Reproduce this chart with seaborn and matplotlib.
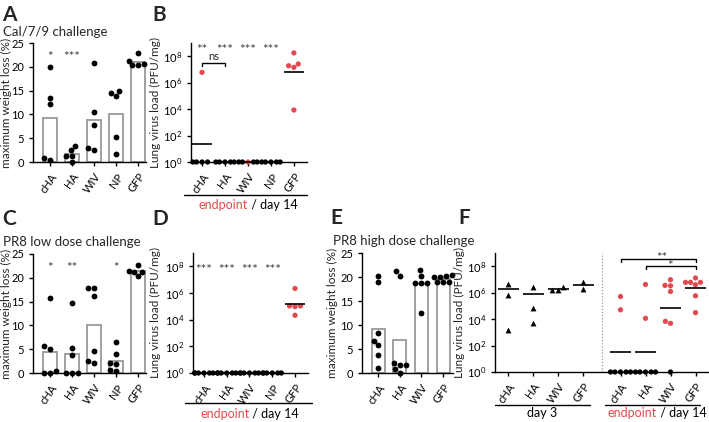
import numpy as np
import pandas as pd
import matplotlib
matplotlib.use("Agg")
import matplotlib.pyplot as plt
import seaborn as sns

# Data
groups5 = ['cHA', 'HA', 'WIV', 'NP', 'GFP']
groups4 = ['cHA', 'HA', 'WIV', 'GFP']

# A - Cal/7/9 challenge, maximum weight loss (%)
a_cHA = [20.0, 13.4, 12.1, 0.4, 0.8]
a_HA = [2.5, 3.3, 1.3, 1.3, 0.0]
a_WIV = [20.8, 10.4, 7.8, 2.6, 3.0]
a_NP = [13.9, 15.0, 14.6, 5.2, 1.7]
a_GFP = [22.8, 21.2, 20.6, 20.3, 20.3]
a_stars = ['*', '***', '', '', '']

# B - Cal/7/9 lung virus load, log10 PFU/mg (first n values per group = endpoint mice)
b_cHA = [6.78, 0, 0, 0, 0]
b_HA = [0, 0, 0, 0, 0]
b_WIV = [0, 0, 0, 0, 0]
b_NP = [0, 0, 0, 0, 0]
b_GFP = [7.16, 8.25, 7.41, 7.28, 3.93]
b_endpoint_n = [1, 0, 1, 0, 5]
b_stars = ['**', '***', '***', '***', '']

# C - PR8 low dose, maximum weight loss (%)
c_cHA = [15.7, 5.1, 5.6, 0.35, 0.0, 0.0]
c_HA = [14.8, 5.2, 3.8, 0.0, 0.0, 0.0]
c_WIV = [17.8, 17.8, 16.1, 4.6, 2.1, 2.6]
c_NP = [6.5, 3.9, 2.0, 1.9, 0.6, 0.5]
c_GFP = [22.6, 21.4, 21.2, 21.2, 20.3]
c_stars = ['*', '**', '', '*', '']

# D - PR8 low dose lung virus load, log10 PFU/mg
d_cHA = [0, 0, 0, 0, 0, 0]
d_HA = [0, 0, 0, 0, 0, 0]
d_WIV = [0, 0, 0, 0, 0, 0]
d_NP = [0, 0, 0, 0, 0, 0]
d_GFP = [6.34, 4.98, 5.03, 5.03, 4.33]
d_endpoint_n = [0, 0, 0, 0, 5]
d_stars = ['***', '***', '***', '***', '']

# E - PR8 high dose, maximum weight loss (%)
e_cHA = [20.3, 19.0, 8.3, 5.8, 6.7, 3.7, 1.0]
e_HA = [20.3, 21.3, 1.7, 1.7, 2.1, 0.9, 0.1]
e_WIV = [21.5, 20.3, 18.8, 18.7, 18.8, 12.6]
e_GFP = [20.5, 20.3, 20.0, 20.0, 19.0, 19.0, 18.9]

# F - PR8 high dose lung virus load, log10 PFU/mg
f3_cHA = [6.67, 5.84, 3.17]
f3_HA = [6.40, 4.82, 3.68]
f3_WIV = [6.17, 6.40, 6.17]
f3_GFP = [6.78, 6.29]
fe_cHA = [5.71, 4.70, 0, 0, 0, 0, 0]
fe_HA = [6.62, 4.06, 0, 0, 0, 0, 0]
fe_WIV = [6.98, 6.52, 6.55, 6.09, 3.68, 3.83, 0]
fe_GFP = [7.11, 6.60, 6.78, 6.78, 6.78, 5.76, 4.49]
fe_endpoint_n = [2, 2, 6, 7]

RED = '#e34a4f'
BAR_EDGE = '#999999'
STAR_COL = '#444444'


def to_long(groups, series, endpoint_n=None):
    rows = []
    for i, g in enumerate(groups):
        for j, v in enumerate(series[i]):
            status = 'endpoint' if endpoint_n is not None and j < endpoint_n[i] else 'day 14'
            rows.append({'group': g, 'value': v, 'status': status})
    return pd.DataFrame(rows)


df_a = to_long(groups5, [a_cHA, a_HA, a_WIV, a_NP, a_GFP])
df_b = to_long(groups5, [b_cHA, b_HA, b_WIV, b_NP, b_GFP], b_endpoint_n)
df_c = to_long(groups5, [c_cHA, c_HA, c_WIV, c_NP, c_GFP])
df_d = to_long(groups5, [d_cHA, d_HA, d_WIV, d_NP, d_GFP], d_endpoint_n)
df_e = to_long(groups4, [e_cHA, e_HA, e_WIV, e_GFP])
df_f3 = to_long(groups4, [f3_cHA, f3_HA, f3_WIV, f3_GFP])
df_fe = to_long(groups4, [fe_cHA, fe_HA, fe_WIV, fe_GFP], fe_endpoint_n)
f_gap = 1.5
df_f3['pos'] = df_f3['group'].map({g: i for i, g in enumerate(groups4)}).astype(float)
df_fe['pos'] = df_fe['group'].map({g: i + len(groups4) - 1 + f_gap for i, g in enumerate(groups4)})

# Style
sns.set_theme(style='ticks', rc={
    'axes.linewidth': 1.0, 'xtick.major.width': 1.0, 'ytick.major.width': 1.0,
    'xtick.major.size': 3, 'ytick.major.size': 3, 'font.size': 8,
    'xtick.labelsize': 8, 'ytick.labelsize': 8, 'axes.labelsize': 8.5,
    'axes.edgecolor': 'black', 'xtick.color': 'black', 'ytick.color': 'black',
})
plt.rcParams['font.family'] = ['Lato', 'DejaVu Sans']
plt.rcParams['mathtext.default'] = 'regular'

W, H = 709, 422
fig = plt.figure(figsize=(W / 100, H / 100), dpi=100)


def px_axes(x0, y0, x1, y1):
    return fig.add_axes([x0 / W, 1 - y1 / H, (x1 - x0) / W, (y1 - y0) / H])


def stars_text(ax, x, y, s):
    # asterisks sit high in the em box, so drop the baseline to centre the glyphs on y
    ax.annotate(s, (x, y), xytext=(0, -5.5), textcoords='offset points',
                ha='center', va='baseline', fontsize=9.5, color=STAR_COL,
                annotation_clip=False)


def finish_x(ax, labels, positions=None):
    if positions is None:
        positions = range(len(labels))
    ax.set_xticks(list(positions))
    ax.set_xticklabels(labels, rotation=55, ha='right', rotation_mode='anchor')
    ax.set_xlabel('')
    for c in ax.collections:
        c.set_clip_on(False)
    sns.despine(ax=ax)


def weight_panel(ax, df, order, xlim, stars=None):
    sns.barplot(data=df, x='group', y='value', order=order, estimator='mean',
                errorbar=None, width=0.6, fill=False, color=BAR_EDGE,
                linewidth=1.3, ax=ax)
    sns.swarmplot(data=df, x='group', y='value', order=order, color='black',
                  size=4.2, warn_thresh=1, ax=ax, zorder=3)
    ax.set_ylim(0, 25)
    ax.set_yticks(range(0, 26, 5))
    ax.set_xlim(*xlim)
    ax.set_ylabel('maximum weight loss (%)')
    if stars:
        for i, s in enumerate(stars):
            if s:
                stars_text(ax, i, 22.8, s)
    finish_x(ax, order)


def log_axis(ax):
    ax.set_ylim(0, 9)
    ax.set_yticks([0, 2, 4, 6, 8])
    ax.set_yticklabels([f'$10^{{{t}}}$' for t in [0, 2, 4, 6, 8]])
    ax.set_ylabel('Lung virus load (PFU/mg)')


def mean_lines(ax, positions, means, half=0.42):
    for p, m in zip(positions, means):
        ax.plot([p - half, p + half], [m, m], color='black', lw=1.2, zorder=4,
                solid_capstyle='butt', clip_on=False)


def group_label(ax, x0, x1, y_line, xtext, y_text, red_part, black_part):
    tr = ax.get_xaxis_transform()
    ax.plot([x0, x1], [y_line, y_line], color='black', lw=1.0, transform=tr, clip_on=False)
    if red_part:
        ax.text(xtext, y_text, red_part, color=RED, ha='right', va='center',
                fontsize=9, transform=tr)
        ax.text(xtext, y_text, ' / ' + black_part, color='black', ha='left', va='center',
                fontsize=9, transform=tr)
    else:
        ax.text(xtext, y_text, black_part, color='black', ha='center', va='center',
                fontsize=9, transform=tr)


def virus_panel(ax, df, order, xlim):
    sns.swarmplot(data=df, x='group', y='value', order=order, hue='status',
                  hue_order=['endpoint', 'day 14'], palette={'endpoint': RED, 'day 14': 'black'},
                  size=3.8, warn_thresh=1, legend=False, ax=ax, zorder=3)
    means = df.groupby('group')['value'].mean().reindex(order)
    mean_lines(ax, range(len(order)), means.values)
    log_axis(ax)
    ax.set_xlim(*xlim)
    finish_x(ax, order)
    return ax


# Panel A
ax_a = px_axes(33, 43, 146, 162)
weight_panel(ax_a, df_a, groups5, (-0.77, 4.36), a_stars)
ax_a.yaxis.set_label_coords(-0.19, 0.5)

# Panel B
ax_b = px_axes(191, 43, 307, 162)
virus_panel(ax_b, df_b, groups5, (-0.48, 4.57))
for i, s in enumerate(b_stars):
    if s:
        stars_text(ax_b, i, 8.75, s)
ax_b.plot([0, 0, 1, 1], [7.25, 7.45, 7.45, 7.25], color='black', lw=1.0)
ax_b.text(0.5, 7.55, 'ns', ha='center', va='bottom', fontsize=8)
ax_b.yaxis.set_label_coords(-0.26, 0.5)
group_label(ax_b, -0.8, 4.57, -0.28, 2.0, -0.36, 'endpoint', 'day 14')

# Panel C
ax_c = px_axes(33, 254, 146, 373)
weight_panel(ax_c, df_c, groups5, (-0.77, 4.36), c_stars)
ax_c.yaxis.set_label_coords(-0.19, 0.5)

# Panel D
ax_d = px_axes(193, 253, 308, 373)
virus_panel(ax_d, df_d, groups5, (-0.48, 4.57))
for i, s in enumerate(d_stars):
    if s:
        stars_text(ax_d, i, 8.0, s)
ax_d.yaxis.set_label_coords(-0.28, 0.5)
group_label(ax_d, -0.85, 4.75, -0.25, 2.0, -0.34, 'endpoint', 'day 14')

# Panel E
ax_e = px_axes(362, 253, 453, 373)
weight_panel(ax_e, df_e, groups4, (-0.74, 3.46))
ax_e.yaxis.set_label_coords(-0.26, 0.5)

# Panel F
ax_f = px_axes(495, 253, 708, 372)
sns.swarmplot(data=df_f3, x='pos', y='value', native_scale=True, orient='x', color='black',
              marker='^', size=4.2, warn_thresh=1, ax=ax_f, zorder=3)
sns.swarmplot(data=df_fe, x='pos', y='value', native_scale=True, orient='x', hue='status',
              hue_order=['endpoint', 'day 14'], palette={'endpoint': RED, 'day 14': 'black'},
              size=3.8, warn_thresh=1, legend=False, ax=ax_f, zorder=3)
pos3 = df_f3.groupby('group', sort=False)['pos'].first()
posE = df_fe.groupby('group', sort=False)['pos'].first()
# day 3: mean of linear titres; endpoint: geometric mean
m3 = df_f3.groupby('group', sort=False)['value'].apply(lambda v: np.log10(np.mean(10 ** v)))
mE = df_fe.groupby('group', sort=False)['value'].mean()
mean_lines(ax_f, pos3.values, m3.values)
mean_lines(ax_f, posE.values, mE.values)
log_axis(ax_f)
ax_f.set_xlim(-0.52, 8.0)
sep = (pos3.values[-1] + posE.values[0]) / 2
ax_f.axvline(sep, color='#9a9a9a', ls=(0, (1, 1.5)), lw=0.9)
pE = posE.to_dict()
ax_f.plot([pE['cHA'], pE['cHA'], pE['GFP'], pE['GFP']], [8.35, 8.58, 8.58, 8.35], color='black', lw=1.0, clip_on=False)
stars_text(ax_f, (pE['cHA'] + pE['GFP']) / 2 + 0.15, 8.88, '**')
ax_f.plot([pE['HA'], pE['HA'], pE['GFP'], pE['GFP']], [7.78, 8.0, 8.0, 7.78], color='black', lw=1.0, clip_on=False)
stars_text(ax_f, (pE['HA'] + pE['GFP']) / 2, 8.27, '*')
finish_x(ax_f, groups4 + groups4, list(pos3.values) + list(posE.values))
ax_f.yaxis.set_label_coords(-0.14, 0.5)
group_label(ax_f, -0.52, 3.28, -0.28, (pos3.values[0] + pos3.values[-1]) / 2 - 0.15, -0.345, '', 'day 3')
group_label(ax_f, 3.88, 7.68, -0.28, 5.96, -0.345, 'endpoint', 'day 14')

# Panel letters and titles
for x, y, t in [(2, 21, 'A'), (152, 21, 'B'), (2, 225, 'C'), (152, 225, 'D'), (330, 224, 'E'), (458, 224, 'F')]:
    fig.text(x / W, 1 - y / H, t, fontsize=15, fontweight='bold', va='baseline', ha='left')
for x, y, t in [(3, 36, 'Cal/7/9 challenge'), (3, 246, 'PR8 low dose challenge'), (333, 245, 'PR8 high dose challenge')]:
    fig.text(x / W, 1 - y / H, t, fontsize=9.5, va='baseline', ha='left')

fig.savefig('out.png', dpi=100)
